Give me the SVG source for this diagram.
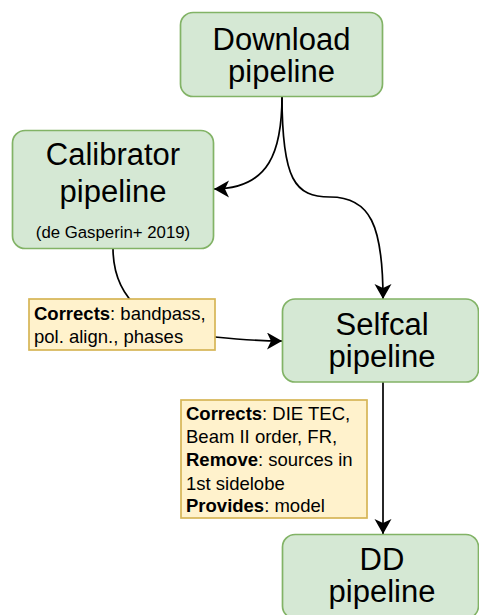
<svg xmlns="http://www.w3.org/2000/svg" width="479" height="615" viewBox="0 0 479 615">
  <style>
    .node { fill: #d5e8d4; stroke: #82b366; stroke-width: 1.7; }
    .note { fill: #fff2cc; stroke: #d6b656; stroke-width: 1.7; }
    .edge { fill: none; stroke: #000; stroke-width: 1.7; }
    text { font-family: "Liberation Sans", Arial, Helvetica, sans-serif; fill: #000; }
    .big { font-size: 31px; text-anchor: middle; }
    .small { font-size: 16.8px; text-anchor: middle; }
    .lbl { font-size: 18.5px; }
    .b { font-weight: bold; }
  </style>
  <defs>
    <marker id="arrow" markerUnits="userSpaceOnUse" markerWidth="16" markerHeight="18" refX="15" refY="8.5" orient="auto" viewBox="0 0 16 18">
      <path d="M0,0 L15,8.5 L0,17 L4,8.5 Z" fill="#000"/>
    </marker>
  </defs>

  <!-- connectors -->
  <g id="connectors">
    <path class="edge" d="M282,96 C282,150 270,189 214,189" marker-end="url(#arrow)"/>
    <path class="edge" d="M282,96 C282,180 295,197 330,197 C370,197 383,225 383,299" marker-end="url(#arrow)"/>
    <path class="edge" d="M113,248 C113,300 150,330 215,337 C245,340 262,341 282,341" marker-end="url(#arrow)"/>
    <path class="edge" d="M383,382 L383,534" marker-end="url(#arrow)"/>
  </g>

  <g id="download">
    <rect class="node" x="180.5" y="12.5" width="202" height="84" rx="12.6"/>
    <text class="big" x="281.5" y="49.5">Download</text>
    <text class="big" x="281.5" y="81.5">pipeline</text>
  </g>

  <g id="calibrator">
    <rect class="node" x="12.5" y="130.5" width="201" height="118" rx="12.6"/>
    <text class="big" x="113" y="165">Calibrator</text>
    <text class="big" x="113" y="201.5">pipeline</text>
    <text class="small" x="113" y="238">(de Gasperin+ 2019)</text>
  </g>

  <g id="selfcal">
    <rect class="node" x="282.5" y="299" width="196" height="83" rx="12.6"/>
    <text class="big" x="382" y="334.5">Selfcal</text>
    <text class="big" x="382" y="367">pipeline</text>
  </g>

  <g id="dd">
    <rect class="node" x="282.5" y="534.5" width="196" height="84" rx="12.6"/>
    <text class="big" x="382" y="569.5">DD</text>
    <text class="big" x="382" y="602">pipeline</text>
  </g>

  <g id="calibrator-corrections">
    <rect class="note" x="29" y="299" width="186" height="51"/>
    <text class="lbl" x="34" y="320"><tspan class="b">Corrects</tspan>: bandpass,</text>
    <text class="lbl" x="34" y="342.5">pol. align., phases</text>
  </g>

  <g id="selfcal-corrections">
    <rect class="note" x="181" y="400" width="186" height="118"/>
    <text class="lbl" x="186" y="419.5"><tspan class="b">Corrects</tspan>: DIE TEC,</text>
    <text class="lbl" x="186" y="442.5">Beam II order, FR,</text>
    <text class="lbl" x="186" y="466"><tspan class="b">Remove</tspan>: sources in</text>
    <text class="lbl" x="186" y="489.5">1st sidelobe</text>
    <text class="lbl" x="186" y="512"><tspan class="b">Provides</tspan>: model</text>
  </g>
</svg>
